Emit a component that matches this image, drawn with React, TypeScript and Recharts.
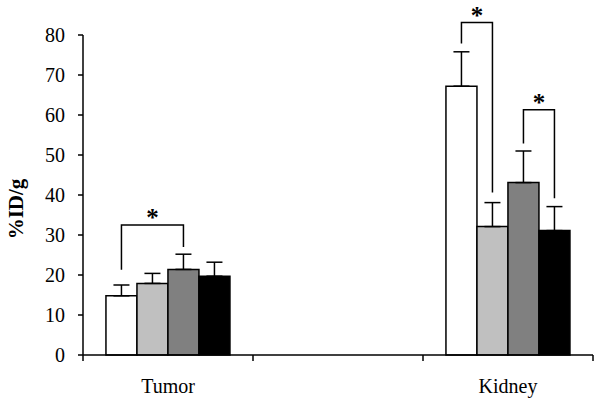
import React from "react";
import { BarChart, Bar, XAxis, YAxis, ErrorBar, LabelList, Label } from "recharts";

const CATEGORIES = ["Tumor", "", "Kidney"];
const SERIES_KEYS = ["a", "b", "c", "d"];
const SERIES_COLORS = ["#ffffff", "#c0c0c0", "#808080", "#000000"];

const GROUP_A = [14.8, null, 67.2];
const GROUP_A_ERR = [2.7, null, 8.6];
const GROUP_B = [17.9, null, 32.1];
const GROUP_B_ERR = [2.5, null, 6.0];
const GROUP_C = [21.4, null, 43.1];
const GROUP_C_ERR = [3.8, null, 7.9];
const GROUP_D = [19.7, null, 31.1];
const GROUP_D_ERR = [3.5, null, 6.0];

const Y_TICKS = [0, 10, 20, 30, 40, 50, 60, 70, 80];

// significance brackets: which band, which two bars, where each leg stops, bracket height
const BRACKET_BAND = [0, 2, 2];
const BRACKET_FROM = [0, 0, 2];
const BRACKET_TO = [2, 1, 3];
const BRACKET_LEFT_END = [21.3, 77.9, 52.9];
const BRACKET_RIGHT_END = [27.0, 40.6, 39.2];
const BRACKET_TOP = [32.5, 83.1, 61.3];

const FONT = "'Liberation Serif', 'Times New Roman', serif";

const seriesValues = [GROUP_A, GROUP_B, GROUP_C, GROUP_D];
const seriesErrors = [GROUP_A_ERR, GROUP_B_ERR, GROUP_C_ERR, GROUP_D_ERR];

const data = CATEGORIES.map((name, i) => {
  const row: Record<string, any> = { name };
  SERIES_KEYS.forEach((key, s) => {
    row[key] = seriesValues[s][i];
    row[key + "Err"] = seriesErrors[s][i] == null ? null : [0, seriesErrors[s][i]];
  });
  return row;
});

const CategoryTick = (props: any) => {
  const { x, y, payload, index } = props;
  const half = payload && payload.offset ? payload.offset : 85;
  return (
    <g>
      <line x1={x - half} x2={x - half} y1={y} y2={y + 6} stroke="#000" strokeWidth={1.5} />
      {index === CATEGORIES.length - 1 && (
        <line x1={x + half} x2={x + half} y1={y} y2={y + 6} stroke="#000" strokeWidth={1.5} />
      )}
      <text x={x} y={y + 38} textAnchor="middle" fontFamily={FONT} fontSize={20} fill="#000">
        {payload.value}
      </text>
    </g>
  );
};

// brackets are drawn from the first bar of each pair, using that bar's own box as the scale
const bracketLabel = (s: number) => (props: any) => {
  const vb = props.viewBox || props;
  const band = props.value != null ? seriesValues[s].indexOf(Number(props.value)) : props.index;
  const value = seriesValues[s][band];
  if (value == null || !vb) return null;
  const { x, y, width, height } = vb;
  const base = y + height;
  const toPx = (v: number) => base - (v * height) / value;
  const marks: React.ReactNode[] = [];
  BRACKET_BAND.forEach((b, k) => {
    if (b !== band || BRACKET_FROM[k] !== s) return;
    const xl = x + width / 2;
    const xr = xl + (BRACKET_TO[k] - s) * width;
    const yt = toPx(BRACKET_TOP[k]);
    marks.push(
      <g key={k}>
        <path
          d={`M${xl},${toPx(BRACKET_LEFT_END[k])} V${yt} H${xr} V${toPx(BRACKET_RIGHT_END[k])}`}
          fill="none"
          stroke="#000"
          strokeWidth={1.5}
        />
        <text
          x={(xl + xr) / 2}
          y={yt + 1}
          textAnchor="middle"
          fontFamily={FONT}
          fontWeight="bold"
          fontSize={25}
          fill="#000"
        >
          *
        </text>
      </g>
    );
  });
  return <g>{marks}</g>;
};

export default function App() {
  return (
    <div style={{ position: "absolute", left: 0, top: 0, background: "#fff" }}>
      <BarChart
        width={600}
        height={404}
        data={data}
        margin={{ top: 35, right: 7, left: 0, bottom: 0 }}
        barCategoryGap="13.5%"
        barGap={0}
      >
        <XAxis
          dataKey="name"
          height={49}
          axisLine={{ stroke: "#000", strokeWidth: 1.5 }}
          tickLine={false}
          tickSize={0}
          tickMargin={0}
          interval={0}
          tick={<CategoryTick />}
        />
        <YAxis
          width={83}
          domain={[0, 80]}
          ticks={Y_TICKS}
          interval={0}
          tickSize={5}
          tickMargin={13}
          axisLine={{ stroke: "#000", strokeWidth: 1.5 }}
          tickLine={{ stroke: "#000", strokeWidth: 1.5 }}
          tick={{ fontFamily: FONT, fontSize: 20, fill: "#000" }}
        >
          <Label
            content={() => (
              <text
                x={23}
                y={209}
                transform="rotate(-90, 23, 209)"
                textAnchor="middle"
                fontFamily={FONT}
                fontWeight="bold"
                fontSize={21}
                fill="#000"
              >
                %ID/g
              </text>
            )}
          />
        </YAxis>
        {SERIES_KEYS.map((key, s) => (
          <Bar
            key={key}
            dataKey={key}
            fill={SERIES_COLORS[s]}
            stroke="#000"
            strokeWidth={1.5}
            isAnimationActive={false}
          >
            <ErrorBar
              dataKey={key + "Err"}
              direction="y"
              width={8}
              stroke="#000"
              strokeWidth={1.5}
              isAnimationActive={false}
            />
            <LabelList content={bracketLabel(s)} />
          </Bar>
        ))}
      </BarChart>
    </div>
  );
}
